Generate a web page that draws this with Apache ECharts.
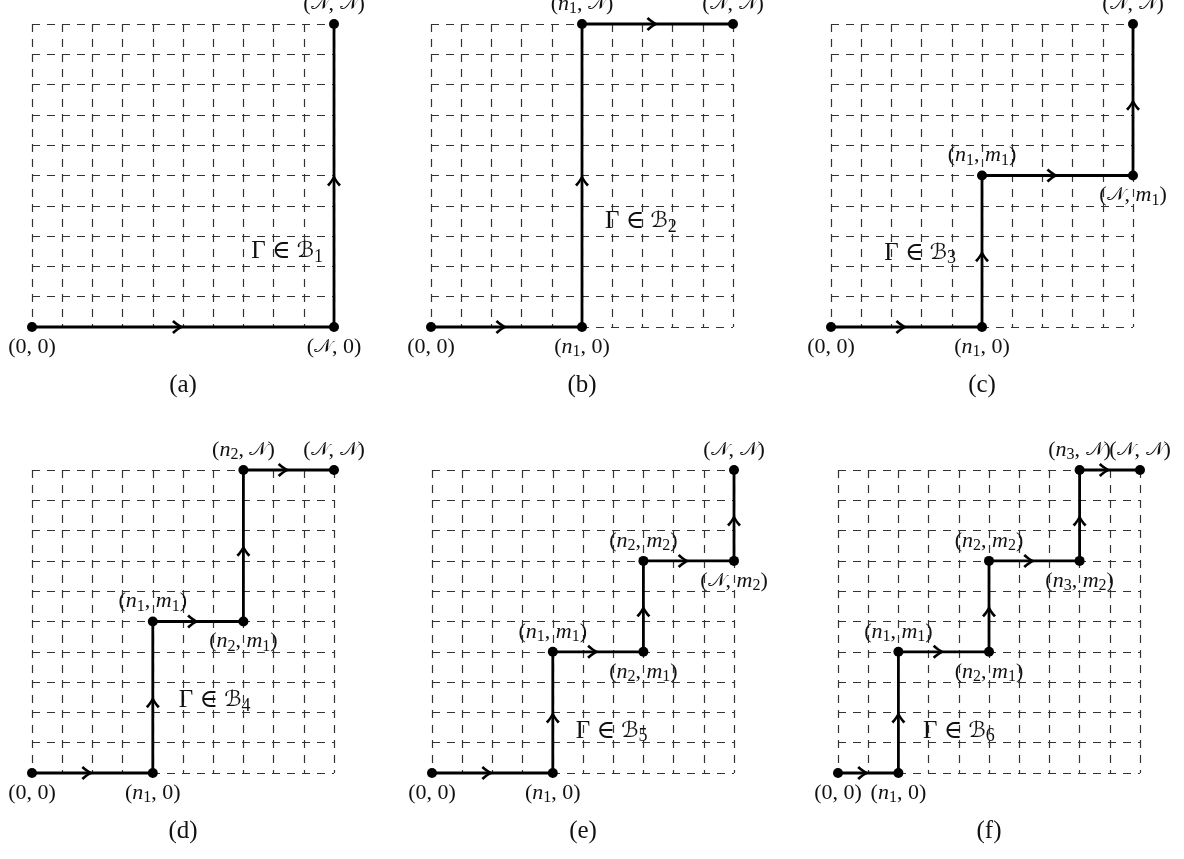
<!DOCTYPE html>
<html>
<head>
<meta charset="utf-8">
<script src="https://cdn.jsdelivr.net/npm/echarts@6/dist/echarts.min.js"></script>
<style>
html,body{margin:0;padding:0;background:#fff;}
#chart{width:1184px;height:859px;}
</style>
</head>
<body>
<div id="chart"></div>
<script>
// ---- data ----
const gridSize = 10;
const panelNames = ['(a)', '(b)', '(c)', '(d)', '(e)', '(f)'];

const pathA = [[0, 0], [10, 0], [10, 10]];
const pathB = [[0, 0], [5, 0], [5, 10], [10, 10]];
const pathC = [[0, 0], [5, 0], [5, 5], [10, 5], [10, 10]];
const pathD = [[0, 0], [4, 0], [4, 5], [7, 5], [7, 10], [10, 10]];
const pathE = [[0, 0], [4, 0], [4, 4], [7, 4], [7, 7], [10, 7], [10, 10]];
const pathF = [[0, 0], [2, 0], [2, 4], [5, 4], [5, 7], [8, 7], [8, 10], [10, 10]];

const labelsA = ['(0, 0)', '(𝒩, 0)', '(𝒩, 𝒩)'];
const labelsB = ['(0, 0)', '(n_1, 0)', '(n_1, 𝒩)', '(𝒩, 𝒩)'];
const labelsC = ['(0, 0)', '(n_1, 0)', '(n_1, m_1)', '(𝒩, m_1)', '(𝒩, 𝒩)'];
const labelsD = ['(0, 0)', '(n_1, 0)', '(n_1, m_1)', '(n_2, m_1)', '(n_2, 𝒩)', '(𝒩, 𝒩)'];
const labelsE = ['(0, 0)', '(n_1, 0)', '(n_1, m_1)', '(n_2, m_1)', '(n_2, m_2)', '(𝒩, m_2)', '(𝒩, 𝒩)'];
const labelsF = ['(0, 0)', '(n_1, 0)', '(n_1, m_1)', '(n_2, m_1)', '(n_2, m_2)', '(n_3, m_2)', '(n_3, 𝒩)', '(𝒩, 𝒩)'];

const setLabels = ['Γ ∈ ℬ_1', 'Γ ∈ ℬ_2', 'Γ ∈ ℬ_3', 'Γ ∈ ℬ_4', 'Γ ∈ ℬ_5', 'Γ ∈ ℬ_6'];
const setLabelAt = [[8.45, 2.5], [6.95, 3.5], [2.95, 2.45], [6.05, 2.4], [5.95, 1.4], [4.0, 1.4]];

const paths = [pathA, pathB, pathC, pathD, pathE, pathF];
const labels = [labelsA, labelsB, labelsC, labelsD, labelsE, labelsF];

// ---- layout / style ----
const gridRects = [
  {left: 32, top: 24}, {left: 431, top: 24}, {left: 831, top: 24},
  {left: 32, top: 470}, {left: 432, top: 470}, {left: 838, top: 470}
];
const GW = 302, GH = 303;
const serif = "'Liberation Serif', 'DejaVu Serif', serif";
const ink = '#111';
function makeRich(fs) {
  return {
    r: {fontFamily: serif, fontSize: fs, color: ink, lineHeight: fs + 4, textBorderWidth: 0},
    i: {fontFamily: serif, fontSize: fs, fontStyle: 'italic', color: ink, lineHeight: fs + 4, textBorderWidth: 0},
    c: {fontFamily: "'DejaVu Serif', 'DejaVu Sans', serif", fontSize: fs - 3, color: ink, lineHeight: fs + 4, textBorderWidth: 0},
    s: {fontFamily: serif, fontSize: Math.round(fs * 0.72), color: ink, lineHeight: Math.round(fs * 0.55), verticalAlign: 'bottom', textBorderWidth: 0}
  };
}
const rich = makeRich(22);
const richSet = makeRich(25);

function toRich(str) {
  let out = '';
  const chars = Array.from(str);
  for (let k = 0; k < chars.length; k++) {
    const ch = chars[k];
    if (ch === '_') { out += '{s|' + chars[k + 1] + '}'; k++; continue; }
    if (ch === 'n' || ch === 'm') out += '{i|' + ch + '}';
    else if (ch === '𝒩' || ch === 'ℬ') out += '{c|' + ch + '}';
    else out += '{r|' + ch + '}';
  }
  return out;
}

const arrowPath = 'path://M14,7 C9.5,5.2 5.5,2.8 2.2,0 L0,2 C3.5,4.8 6.5,6.2 9,7 C6.5,7.8 3.5,9.2 0,12 L2.2,14 C5.5,11.2 9.5,8.8 14,7 Z';

const grids = [], xAxes = [], yAxes = [], series = [];
paths.forEach((path, i) => {
  grids.push({left: gridRects[i].left, top: gridRects[i].top, width: GW, height: GH});
  const splitLine = {show: true, lineStyle: {color: '#333', width: 1.2, type: [8, 7]}};
  xAxes.push({
    type: 'value', gridIndex: i, min: 0, max: gridSize, interval: 1,
    axisLine: {show: false}, axisTick: {show: false}, axisLabel: {show: false},
    splitLine: splitLine,
    name: panelNames[i], nameLocation: 'middle', nameGap: 46,
    nameTextStyle: {fontFamily: serif, fontSize: 25, color: ink}
  });
  yAxes.push({
    type: 'value', gridIndex: i, min: 0, max: gridSize, interval: 1,
    axisLine: {show: false}, axisTick: {show: false}, axisLabel: {show: false},
    splitLine: splitLine
  });
  // path with vertices and labels
  const data = path.map((p, k) => {
    let pos = 'top';
    if (k === 0) pos = 'bottom';
    else if (p[1] === gridSize) pos = 'top';
    else if (path[k - 1][1] === p[1]) pos = 'bottom';
    return {
      value: p,
      label: {show: true, position: pos, distance: 2, formatter: toRich(labels[i][k]), rich: rich}
    };
  });
  series.push({
    type: 'line', xAxisIndex: i, yAxisIndex: i, data: data, clip: false,
    symbol: 'circle', symbolSize: 10, showSymbol: true,
    lineStyle: {color: '#000', width: 2.8}, itemStyle: {color: '#000', opacity: 1},
    z: 5, silent: true
  });
  // arrows at segment midpoints
  const arrows = [];
  for (let k = 1; k < path.length; k++) {
    const a = path[k - 1], b = path[k];
    const horiz = a[1] === b[1];
    arrows.push({
      value: [(a[0] + b[0]) / 2, (a[1] + b[1]) / 2],
      symbolRotate: horiz ? 0 : 90,
      symbolOffset: horiz ? [-5, 0] : [0, 5]
    });
  }
  series.push({
    type: 'scatter', xAxisIndex: i, yAxisIndex: i, data: arrows, clip: false,
    symbol: arrowPath, symbolSize: [12, 14], itemStyle: {color: '#000', opacity: 1}, z: 6, silent: true
  });
  // set label
  series.push({
    type: 'scatter', xAxisIndex: i, yAxisIndex: i, data: [setLabelAt[i]], symbolSize: 0,
    itemStyle: {opacity: 1},
    label: {show: true, position: 'top', distance: -15, color: ink, textBorderWidth: 0,
            formatter: toRich(setLabels[i]), rich: richSet},
    z: 7, silent: true
  });
});

const chart = echarts.init(document.getElementById('chart'), null, {renderer: 'canvas'});
chart.setOption({
  animation: false,
  backgroundColor: '#fff',
  grid: grids, xAxis: xAxes, yAxis: yAxes, series: series
});
</script>
</body>
</html>
